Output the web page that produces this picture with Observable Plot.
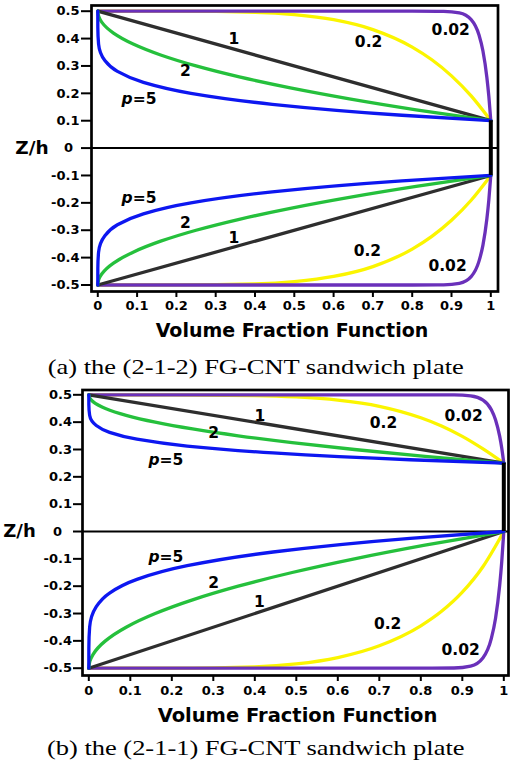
<!DOCTYPE html>
<html>
<head>
<meta charset="utf-8">
<script src="https://cdn.jsdelivr.net/npm/d3@7"></script>
<script src="https://cdn.jsdelivr.net/npm/@observablehq/plot@0.6"></script>
<style>
  html, body { margin: 0; padding: 0; background: #fff; }
  #root { position: relative; width: 512px; height: 774px; overflow: hidden; }
  .pan { position: absolute; left: 0; }
  .cap { position: absolute; left: 0; width: 512px; text-align: center;
         font-family: "Liberation Serif", "Times New Roman", serif; font-size: 21px;
         line-height: 1.1; color: #000; transform: scaleX(1.26); transform-origin: 257px 0; white-space: nowrap; }
  svg [aria-label^="y-axis"] line, svg [aria-label^="y-axis"] path,
  svg [aria-label^="x-axis"] line, svg [aria-label^="x-axis"] path { stroke-width: 2px; stroke: #000; }
</style>
</head>
<body>
<div id="root">
  <div id="pa" class="pan" style="top:0px"></div>
  <div class="cap" style="top:356px">(a) the (2-1-2) FG-CNT sandwich plate</div>
  <div id="pb" class="pan" style="top:380px"></div>
  <div class="cap" style="top:737px">(b) the (2-1-1) FG-CNT sandwich plate</div>
</div>
<script>
// ---------- ticks ----------
const xTicks = [0, 0.1, 0.2, 0.3, 0.4, 0.5, 0.6, 0.7, 0.8, 0.9, 1];
const xTickLabels = ["0", "0.1", "0.2", "0.3", "0.4", "0.5", "0.6", "0.7", "0.8", "0.9", "1"];
const yTicks = [0.5, 0.4, 0.3, 0.2, 0.1, 0, -0.1, -0.2, -0.3, -0.4, -0.5];
const yTickLabels = ["0.5", "0.4", "0.3", "0.2", "0.1", "0", "-0.1", "-0.2", "-0.3", "-0.4", "-0.5"];

// ---------- series: power-law index p ----------
const pValues = ["5", "2", "1", "0.2", "0.02"];
const pColors = ["#0d17f0", "#25c03c", "#2e2e2e", "#fbf500", "#6a30ba"];

// Panel (a): [volume fraction, z/h]
const a_up_p5 = [[1,0.10],[0.774,0.12],[0.444,0.16],[0.237,0.20],[0.116,0.24],[0.050,0.28],[0.018,0.32],[0.002,0.38],[0.0001,0.44],[0,0.50]];
const a_lo_p5 = [[0,-0.50],[0.0001,-0.44],[0.002,-0.38],[0.018,-0.32],[0.050,-0.28],[0.116,-0.24],[0.237,-0.20],[0.444,-0.16],[0.774,-0.12],[1,-0.10]];
const a_up_p2 = [[1,0.10],[0.81,0.14],[0.64,0.18],[0.49,0.22],[0.36,0.26],[0.25,0.30],[0.16,0.34],[0.09,0.38],[0.04,0.42],[0.01,0.46],[0.0025,0.48],[0,0.50]];
const a_lo_p2 = [[0,-0.50],[0.0025,-0.48],[0.01,-0.46],[0.04,-0.42],[0.09,-0.38],[0.16,-0.34],[0.25,-0.30],[0.36,-0.26],[0.49,-0.22],[0.64,-0.18],[0.81,-0.14],[1,-0.10]];
const a_up_p1 = [[1,0.10],[0,0.50]];
const a_lo_p1 = [[0,-0.50],[1,-0.10]];
const a_up_p02 = [[0,0.5],[0.2,0.4999],[0.4,0.4959],[0.5,0.4875],[0.6,0.4689],[0.7,0.4328],[0.8,0.3689],[0.85,0.3225],[0.9,0.2638],[0.95,0.1905],[1,0.1]];
const a_lo_p02 = [[0,-0.5],[0.2,-0.4999],[0.4,-0.4959],[0.5,-0.4875],[0.6,-0.4689],[0.7,-0.4328],[0.8,-0.3689],[0.85,-0.3225],[0.9,-0.2638],[0.95,-0.1905],[1,-0.1]];
const a_up_p002 = [[0,0.5],[0.8,0.5],[0.88,0.4993],[0.92,0.4938],[0.95,0.4692],[0.97,0.4128],[0.98,0.3544],[0.99,0.258],[0.995,0.1888],[1,0.1]];
const a_lo_p002 = [[0,-0.5],[0.8,-0.5],[0.88,-0.4993],[0.92,-0.4938],[0.95,-0.4692],[0.97,-0.4128],[0.98,-0.3544],[0.99,-0.258],[0.995,-0.1888],[1,-0.1]];
const a_core = [-0.1, 0.1];

// Panel (b)
const b_up_p5 = [[1,0.25],[0.774,0.2625],[0.444,0.2875],[0.237,0.3125],[0.116,0.3375],[0.050,0.3625],[0.018,0.3875],[0.002,0.425],[0.0001,0.4625],[0,0.5]];
const b_lo_p5 = [[0,-0.5],[0.0001,-0.425],[0.002,-0.35],[0.018,-0.275],[0.050,-0.225],[0.116,-0.175],[0.237,-0.125],[0.444,-0.075],[0.774,-0.025],[1,0]];
const b_up_p2 = [[1,0.25],[0.81,0.275],[0.64,0.3],[0.49,0.325],[0.36,0.35],[0.25,0.375],[0.16,0.4],[0.09,0.425],[0.04,0.45],[0.01,0.475],[0.0025,0.4875],[0,0.5]];
const b_lo_p2 = [[0,-0.5],[0.0025,-0.475],[0.01,-0.45],[0.04,-0.4],[0.09,-0.35],[0.16,-0.3],[0.25,-0.25],[0.36,-0.2],[0.49,-0.15],[0.64,-0.1],[0.81,-0.05],[1,0]];
const b_up_p1 = [[1,0.25],[0,0.5]];
const b_lo_p1 = [[0,-0.5],[1,0]];
const b_up_p02 = [[0,0.5],[0.2,0.4999],[0.4,0.4974],[0.5,0.4922],[0.6,0.4806],[0.7,0.458],[0.8,0.416],[0.85,0.386],[0.9,0.348],[0.95,0.302],[1,0.25]];
const b_lo_p02 = [[0,-0.5],[0.2,-0.4998],[0.4,-0.4949],[0.5,-0.4844],[0.6,-0.4611],[0.7,-0.418],[0.8,-0.345],[0.85,-0.292],[0.9,-0.222],[0.95,-0.128],[1,0]];
const b_up_p002 = [[0,0.5],[0.8,0.5],[0.88,0.4996],[0.92,0.4961],[0.95,0.4808],[0.97,0.4455],[0.98,0.409],[0.99,0.3488],[0.995,0.3055],[1,0.25]];
const b_lo_p002 = [[0,-0.5],[0.8,-0.5],[0.88,-0.4992],[0.92,-0.4923],[0.95,-0.4616],[0.97,-0.391],[0.98,-0.318],[0.99,-0.1975],[0.995,-0.111],[1,0]];
const b_core = [0, 0.25];

// ---------- curve labels ----------
const labelsA = [
  {t: "1", x: 0.346, z: 0.397}, {t: "2", x: 0.223, z: 0.280},
  {t: "0.2", x: 0.689, z: 0.386}, {t: "0.02", x: 0.898, z: 0.433},
  {t: "2", x: 0.223, z: -0.272}, {t: "1", x: 0.346, z: -0.327},
  {t: "0.2", x: 0.686, z: -0.375}, {t: "0.02", x: 0.890, z: -0.430}
];
const pLabelsA = [{a: "p", b: "=5", x: 0.104, z: 0.181}, {a: "p", b: "=5", x: 0.104, z: -0.181}];
const labelsB = [
  {t: "1", x: 0.412, z: 0.424}, {t: "2", x: 0.301, z: 0.362},
  {t: "0.2", x: 0.710, z: 0.395}, {t: "0.02", x: 0.903, z: 0.424},
  {t: "2", x: 0.301, z: -0.190}, {t: "1", x: 0.411, z: -0.259},
  {t: "0.2", x: 0.720, z: -0.340}, {t: "0.02", x: 0.896, z: -0.432}
];
const pLabelsB = [{a: "p", b: "=5", x: 0.185, z: 0.260}, {a: "p", b: "=5", x: 0.185, z: -0.095}];

const yAxisTitle = "Z/h";
const xAxisTitle = "Volume Fraction Function";

const curvesA = [
  [a_up_p02, a_lo_p02, "0.2"], [a_up_p002, a_lo_p002, "0.02"],
  [a_up_p1, a_lo_p1, "1"], [a_up_p2, a_lo_p2, "2"], [a_up_p5, a_lo_p5, "5"]
];
const curvesB = [
  [b_up_p02, b_lo_p02, "0.2"], [b_up_p002, b_lo_p002, "0.02"],
  [b_up_p1, b_lo_p1, "1"], [b_up_p2, b_lo_p2, "2"], [b_up_p5, b_lo_p5, "5"]
];

const xFmt = d => xTickLabels[xTicks.findIndex(v => Math.abs(v - d) < 1e-9)];
const yFmt = d => yTickLabels[yTicks.findIndex(v => Math.abs(v - d) < 1e-9)];

function panel(c) {
  const marks = [];
  marks.push(Plot.ruleY([0], {stroke: "#000", strokeWidth: 2}));
  for (const [up, lo, p] of c.curves) {
    const color = pColors[pValues.indexOf(p)];
    const curve = (+p >= 1) ? "monotone-y" : "monotone-x";
    for (const data of [up, lo]) {
      marks.push(Plot.line(data, {x: d => d[0], y: d => d[1], stroke: color, strokeWidth: 3.3, curve,
        strokeLinejoin: "round", strokeLinecap: "round"}));
    }
  }
  marks.push(Plot.ruleX([1], {y1: c.core[0], y2: c.core[1], stroke: "#000", strokeWidth: 4}));
  marks.push(Plot.text(c.labels, {x: "x", y: "z", text: "t", fontSize: 15.5, fontWeight: "bold", fill: "#000"}));
  marks.push(Plot.text(c.pLabels, {x: "x", y: "z", text: "a", fontSize: 15.5, fontWeight: "bold", fontStyle: "italic", textAnchor: "end", dx: -6, fill: "#000"}));
  marks.push(Plot.text(c.pLabels, {x: "x", y: "z", text: "b", fontSize: 15.5, fontWeight: "bold", textAnchor: "start", dx: -6, fill: "#000"}));
  marks.push(Plot.text([yAxisTitle], {text: d => d, y: [0], frameAnchor: "left", dx: c.zhDx, textAnchor: "middle", fontSize: c.zhSize, fontWeight: "bold", fill: "#000"}));
  marks.push(Plot.text([xAxisTitle], {text: d => d, frameAnchor: "bottom", dx: c.xtDx, dy: c.xtDy, fontSize: c.xtSize, fontWeight: "bold", fill: "#000"}));
  marks.push(Plot.frame({stroke: "#000", strokeWidth: 2.7}));
  const svg = Plot.plot({
    width: 512, height: c.height,
    marginLeft: c.ml, marginRight: c.mr, marginTop: c.mt, marginBottom: c.mb,
    x: {domain: c.xd, ticks: xTicks, tickFormat: xFmt, tickSize: c.xTickSize, tickPadding: c.xTickPad, label: null},
    y: {domain: c.yd, ticks: yTicks, tickFormat: yFmt, tickSize: c.yTickSize, tickPadding: c.yTickPad, label: null},
    style: {fontFamily: "DejaVu Sans", fontSize: "13px", fontWeight: "bold", color: "#000", background: "transparent"},
    marks
  });
  d3.select(svg).selectAll("text").each(function () {
    if (this.closest('[aria-label^="y-axis"]') && this.textContent === "0") d3.select(this).attr("dx", c.zeroShift);
  });
  return svg;
}

document.getElementById("pa").appendChild(panel({
  height: 350, ml: 91, mr: 14.5, mt: 5, mb: 59,
  xd: [-0.016, 1.0183], yd: [-0.5238, 0.5208],
  xTickSize: 6, xTickPad: 3, yTickSize: 10, yTickPad: 2,
  curves: curvesA, core: a_core, labels: labelsA, pLabels: pLabelsA,
  zhDx: -59.5, zhSize: 18.5, xtDx: -2.75, xtDy: 45, xtSize: 19, zeroShift: -6.5
}));
document.getElementById("pb").appendChild(panel({
  height: 356, ml: 82, mr: 4, mt: 9.5, mb: 61,
  xd: [-0.0152, 1.0113], yd: [-0.5267, 0.5176],
  xTickSize: 6, xTickPad: 4, yTickSize: 9, yTickPad: 1.5,
  curves: curvesB, core: b_core, labels: labelsB, pLabels: pLabelsB,
  zhDx: -63, zhSize: 18, xtDx: 2, xtDy: 46.7, xtSize: 19.5, zeroShift: -10
}));
</script>
</body>
</html>
